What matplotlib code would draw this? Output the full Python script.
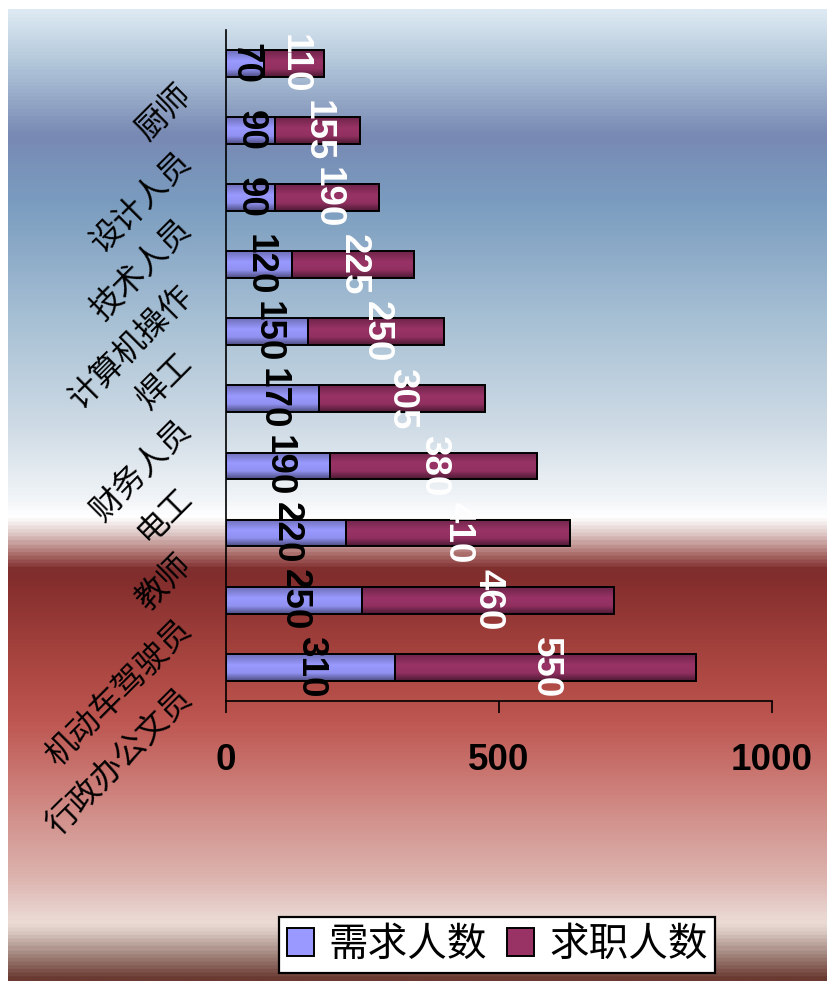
import numpy as np
import matplotlib
matplotlib.use('Agg')
import matplotlib.pyplot as plt
from matplotlib.colors import LinearSegmentedColormap, to_rgb
from matplotlib.font_manager import FontProperties
import matplotlib.transforms as mtransforms

# ---------------- data ----------------
categories = ['行政办公文员', '机动车驾驶员', '教师', '电工', '财务人员',
              '焊工', '计算机操作', '技术人员', '设计人员', '厨师']
demand = [310, 250, 220, 190, 170, 150, 120, 90, 90, 70]          # 需求人数
applicants = [550, 460, 410, 380, 305, 250, 225, 190, 155, 110]   # 求职人数
series_names = ['需求人数', '求职人数']
xticks = [0, 500, 1000]

# ---------------- figure ----------------
W, H = 828, 981
fig = plt.figure(figsize=(W / 100, H / 100), dpi=100)
fig.patch.set_facecolor('white')

# background gradient (pixel row from top, colour)
bg_stops = [(9, '#dde9f2'), (60, '#b3c8db'), (133, '#7889b3'), (200, '#7a9cbf'),
            (330, '#abc3d6'), (430, '#d0dce6'), (500, '#f2f5f8'), (517, '#ffffff'),
            (535, '#dcc5c3'), (555, '#a86a67'), (570, '#7f2d2d'), (585, '#852f2e'),
            (660, '#a8443f'), (720, '#bd5550'), (800, '#cf8580'), (880, '#dcb4af'),
            (925, '#ecdcd6'), (935, '#d8c7c0'), (955, '#a68a82'), (981, '#6a3a32')]
pos = [(p - 9) / (H - 9) for p, _ in bg_stops]
bg_cmap = LinearSegmentedColormap.from_list('bg', list(zip(pos, [c for _, c in bg_stops])))
bg = fig.add_axes([8 / W, 0, 1 - 8 / W, 1 - 9 / H], zorder=-10)
bg.imshow(np.linspace(0, 1, 800).reshape(-1, 1), aspect='auto', cmap=bg_cmap,
          interpolation='bilinear')
bg.axis('off')

# ---------------- main axes ----------------
ax = fig.add_axes([226 / W, 1 - 700.7 / H, (772 - 226) / W, (700.7 - 30) / H])
ax.patch.set_alpha(0)

y = np.arange(len(categories))
b1 = ax.barh(y, demand, height=0.4, color='#9999ff', edgecolor='black',
             linewidth=1.4, label=series_names[0], zorder=3)
b2 = ax.barh(y, applicants, left=demand, height=0.4, color='#993366',
             edgecolor='black', linewidth=1.4, label=series_names[1], zorder=3)

num_font = dict(fontsize=26.5, fontweight='bold', family='Liberation Sans')
ax.bar_label(b1, label_type='center', rotation=-90, color='black', zorder=5, **num_font)
ax.bar_label(b2, label_type='center', rotation=-90, color='white', zorder=5, **num_font)

# legend (made before shading so handles keep flat colours)
leg = fig.legend(handles=[b1, b2], labels=series_names, loc='center',
                 bbox_to_anchor=(497 / W, 1 - 945 / H), ncol=2,
                 prop=FontProperties(family='Noto Sans CJK SC', size=28.5),
                 frameon=True, fancybox=False, edgecolor='black', facecolor='white',
                 framealpha=1, handlelength=0.68, handleheight=0.7,
                 handletextpad=0.38, columnspacing=0.5, borderpad=0.2)
leg.get_frame().set_linewidth(1.6)


# cylinder-like shading of bars
def shade(container, base):
    r, g, b = to_rgb(base)
    t = np.linspace(0, 1, 60)
    fac = np.interp(t, [0, 0.3, 0.6, 1.0], [0.5, 0.95, 1.0, 0.72])
    img = np.clip(np.stack([fac * r, fac * g, fac * b], axis=-1), 0, 1)[::-1].reshape(-1, 1, 3)
    for p in container.patches:
        x0, y0 = p.get_x(), p.get_y()
        im = ax.imshow(img, aspect='auto', interpolation='bilinear',
                       extent=(x0, x0 + p.get_width(), y0, y0 + p.get_height()),
                       zorder=2)
        im.set_clip_path(p)
        p.set_facecolor('none')


shade(b1, '#9999ff')
shade(b2, '#993366')

ax.set_xlim(0, 1000)
ax.set_ylim(-0.5, len(categories) - 0.5)

# axes styling
for s in ['top', 'right']:
    ax.spines[s].set_visible(False)
for s in ['left', 'bottom']:
    ax.spines[s].set_linewidth(1.2)
    ax.spines[s].set_color('black')

ax.set_xticks(xticks)
ax.set_xticklabels([str(v) for v in xticks], **num_font)
ax.tick_params(axis='x', length=8.6, width=1.2, direction='out', pad=22, colors='black')

ax.set_yticks(y)
ax.set_yticklabels(categories, rotation=45, rotation_mode='anchor', ha='right',
                   va='center', fontsize=23, family=['Noto Sans CJK SC', 'DejaVu Sans'])
ax.tick_params(axis='y', length=0, pad=28)
offset = mtransforms.ScaledTranslation(0, -26 / 100, fig.dpi_scale_trans)
for lab in ax.get_yticklabels():
    lab.set_transform(lab.get_transform() + offset)

fig.savefig('out.png', dpi=100)
